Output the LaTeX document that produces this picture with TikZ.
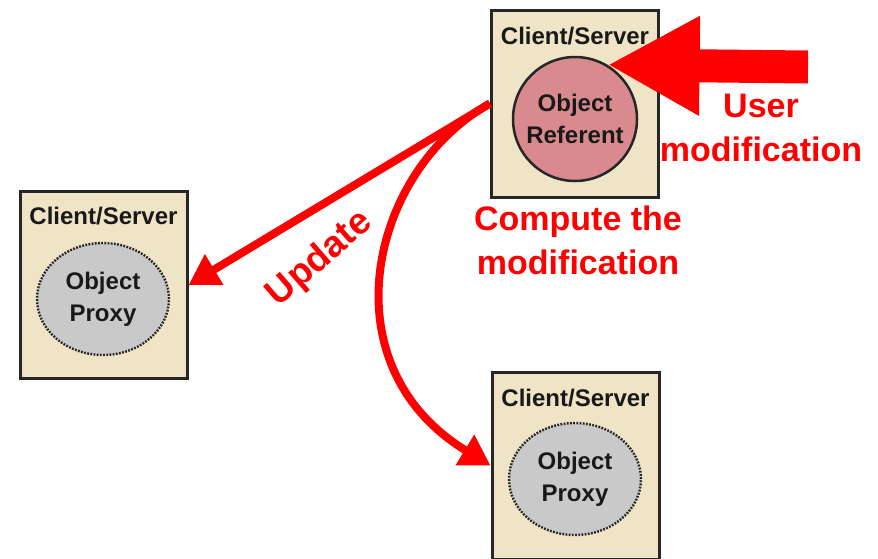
\documentclass[tikz,border=0pt]{standalone}
\usepackage{fontspec}
\setmainfont{Liberation Sans}
\usetikzlibrary{arrows.meta,shapes.geometric}
\definecolor{boxfill}{HTML}{F0E4C6}
\definecolor{reffill}{HTML}{D98A8E}
\definecolor{proxyfill}{HTML}{C9C9C9}
\definecolor{bigred}{HTML}{FF0000}
\begin{document}
\begin{tikzpicture}[x=1pt,y=-1pt,
  csbox/.style={draw=black!85,line width=3pt,fill=boxfill,minimum width=167pt,minimum height=187pt,inner sep=0pt},
  cslabel/.style={font=\bfseries\fontsize{24}{28}\selectfont,inner sep=0pt,text=black!90},
  referent/.style={circle,draw=black!85,line width=2.5pt,fill=reffill,minimum size=124pt,inner sep=0pt,align=center,font=\bfseries\fontsize{24}{32}\selectfont,text=black!90},
  proxy/.style={ellipse,draw=black!85,line width=2.4pt,dash pattern=on 1.8pt off 1.4pt,fill=proxyfill,minimum width=132pt,minimum height=112pt,inner sep=0pt,align=center,font=\bfseries\fontsize{24}{32}\selectfont,text=black!90},
  redtext/.style={text=bigred,font=\bfseries\fontsize{34}{44}\selectfont,align=center,inner sep=0pt},
  redarrow/.style={draw=bigred,line width=8pt,-{Triangle[length=30pt,width=34pt]}}
]
\useasboundingbox (0,0) rectangle (878,558);
% boxes
\node[csbox] (top) at (575,103.5) {};
\node[csbox] (left) at (103.5,285) {};
\node[csbox] (bot) at (575.5,465.5) {};
\node[cslabel] (toplab) at (575,36) {Client/Server};
\node[cslabel] (leftlab) at (103.5,216) {Client/Server};
\node[cslabel] (botlab) at (575.5,398) {Client/Server};
\node[referent] (ref) at (575,119) {Object\\Referent};
\node[proxy] (lproxy) at (103,299) {Object\\Proxy};
\node[proxy] (bproxy) at (575,479) {Object\\Proxy};
% big arrow
\coordinate (usertail) at (808,67);
\draw[draw=bigred,line width=33pt,-{Triangle[length=92pt,width=93pt]}] (usertail) -- (ref.59);
% texts
\node[redtext] (user) at (761,128) {User\\modification};
\node[redtext] (compute) at (578,240) {Compute the\\modification};
\node[redtext,rotate=41,font=\bfseries\fontsize{37}{44}\selectfont] (update) at (320,259) {Update};
% update arrows
\draw[redarrow] (top.west) -- (left.east);
\draw[redarrow] (top.west) .. controls (370,170) and (325,365) .. (bot.west);
\end{tikzpicture}
\end{document}
